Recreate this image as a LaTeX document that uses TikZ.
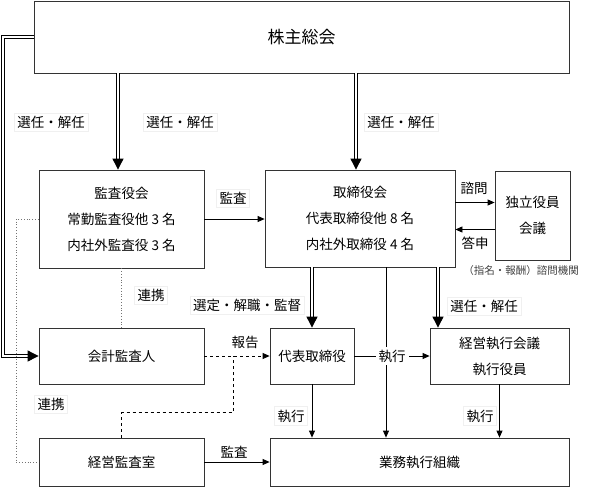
\documentclass[tikz,border=0pt]{standalone}
\usepackage{fontspec}
\setmainfont{Noto Sans CJK JP}
\usetikzlibrary{arrows.meta}

\begin{document}
\begin{tikzpicture}[x=1pt,y=-1pt,
    box/.style={draw=black!80,line width=0.8pt,fill=white,align=center,inner sep=0pt,
      font=\fontsize{13.5}{26}\selectfont},
    lbl/.style={fill=white,draw=black!6,inner sep=3pt,font=\fontsize{13.5}{16}\selectfont},
    dbl/.style={double=white,double distance=2.2pt,line width=0.9pt,
      -{Triangle[length=11pt,width=11pt]}},
    arr/.style={line width=0.8pt,-{Triangle[length=7pt,width=6pt]}},
    rel/.style={black!55,dotted,line width=0.8pt},
    rep/.style={dashed,line width=0.9pt}]
  \useasboundingbox (0,0) rectangle (589,488);
  \draw
    (301.5,37) node[box,minimum width=535pt,minimum height=72pt,
      font=\fontsize{17}{20}\selectfont] (meeting){株主総会}
    (121.5,219) node[box,minimum width=165pt,minimum height=98pt] (kansa){監査役会\\常勤監査役他 3 名\\内社外監査役 3 名}
    (360,218.5) node[box,minimum width=190pt,minimum height=97pt] (board){取締役会\\代表取締役他 8 名\\内社外取締役 4 名}
    (532.5,215.5) node[box,minimum width=75pt,minimum height=89pt] (indep){独立役員\\会議}
    (121.5,356) node[box,minimum width=165pt,minimum height=56pt] (auditor){会計監査人}
    (312,356) node[box,minimum width=84pt,minimum height=56pt] (ceo){代表取締役}
    (499.5,356) node[box,minimum width=139pt,minimum height=56pt] (exec){経営執行会議\\執行役員}
    (121.5,462) node[box,minimum width=165pt,minimum height=48pt] (internal){経営監査室}
    (419.5,462) node[box,minimum width=299pt,minimum height=48pt] (ops){業務執行組織};
  \coordinate (lft) at (3,356);
  \coordinate (dl) at (16,462);
  \coordinate (join) at (233,356);
  \begin{scope}
    % 株主総会から
    \draw[dbl] ([xshift=-3.5pt]meeting.south -| kansa.north) -- ([xshift=-3.5pt]kansa.north);
    \draw[dbl] ([xshift=-4pt]meeting.south -| board.north) -- ([xshift=-4pt]board.north);
    \draw[dbl] (meeting.west) -| (lft) -- (auditor.west);
    % 監査・諮問
    \draw[arr] (kansa.east) -- (kansa.east -| board.west);
    \draw[arr] ([yshift=16pt]board.east) -- ([yshift=16pt]board.east -| indep.west);
    \draw[arr] ([yshift=-11pt]board.east -| indep.west) -- ([yshift=-11pt]board.east);
    % 取締役会から
    \draw[dbl] (board.south -| ceo.north) -- (ceo.north);
    \draw[arr] ([xshift=26pt]board.south) -- ([xshift=26pt]board.south |- ops.north);
    \draw[dbl] ([xshift=78pt]board.south) -- ([xshift=78pt]board.south |- exec.north);
    \draw[arr] (ceo.east) -- node[lbl,draw=none] (run1){執行} (exec.west);
    \draw[arr] (ceo.south) -- (ceo.south |- ops.north);
    \draw[arr] (exec.south) -- (exec.south |- ops.north);
    % 報告・監査
    \draw[rep,arr] (auditor.east) -- (ceo.west);
    \draw[rep] (internal.north) -- ++(0,-25) -| (join);
    \draw[arr] (internal.east) -- (ops.west);
    % 連携
    \draw[rel] (kansa.south) -- (auditor.north);
    \draw[rel] (kansa.west) -| (dl) -- (internal.west);
  \end{scope}
  \node[lbl] (sel1) at (51,122) {選任・解任};
  \node[lbl] (sel2) at (180,122) {選任・解任};
  \node[lbl] (sel3) at (401,122) {選任・解任};
  \node[lbl] (aud1) at (233,198) {監査};
  \node[lbl,draw=none,fill=none] (ask) at (474,188) {諮問};
  \node[lbl,draw=none,fill=none] (ans) at (475,243) {答申};
  \node[font=\fontsize{10.5}{12}\selectfont,black!75] (advisory) at (521,271) {（指名・報酬）諮問機関};
  \node[lbl] (link1) at (151,295) {連携};
  \node[lbl] (sup) at (247,305) {選定・解職・監督};
  \node[lbl] (sel4) at (484,306) {選任・解任};
  \node[lbl,draw=none] (rep1) at (245,342) {報告};
  \node[lbl] (link2) at (51,404) {連携};
  \node[lbl] (run2) at (291,416) {執行};
  \node[lbl] (run3) at (480,416) {執行};
  \node[lbl,draw=none] (aud2) at (234,452) {監査};
\end{tikzpicture}
\end{document}
